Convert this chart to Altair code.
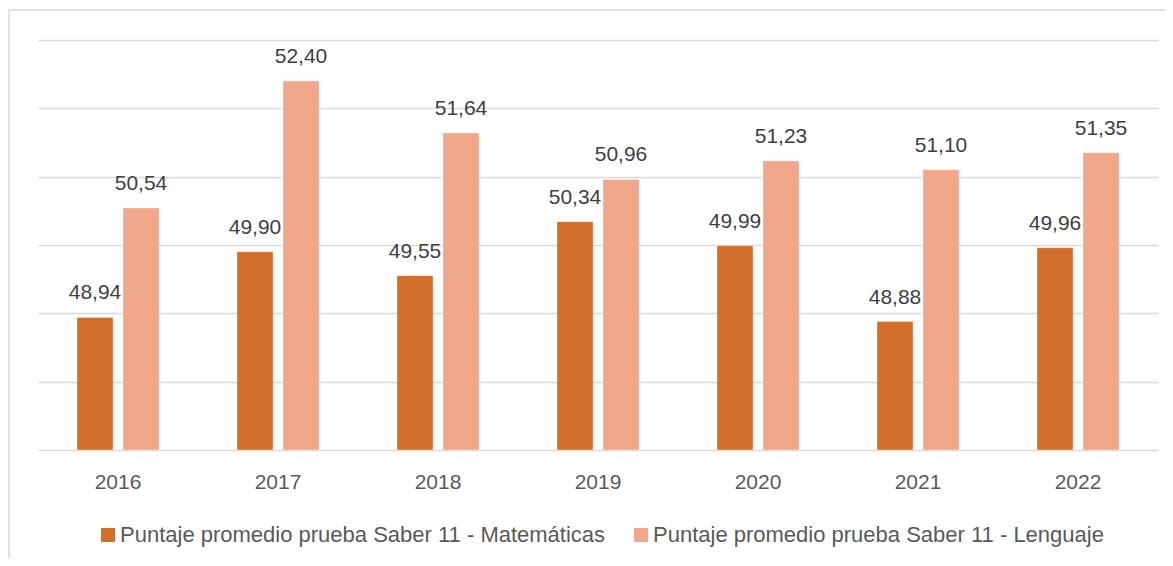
import altair as alt
import pandas as pd

years = ["2016", "2017", "2018", "2019", "2020", "2021", "2022"]
matematicas = [48.94, 49.90, 49.55, 50.34, 49.99, 48.88, 49.96]
lenguaje = [50.54, 52.40, 51.64, 50.96, 51.23, 51.10, 51.35]
series_names = [
    "Puntaje promedio prueba Saber 11 - Matemáticas",
    "Puntaje promedio prueba Saber 11 - Lenguaje",
]
colors = ["#D26E2B", "#F1A88A"]
grid_values = [47, 48, 49, 50, 51, 52, 53]

rows = []
for i, y in enumerate(years):
    for name, vals in zip(series_names, [matematicas, lenguaje]):
        rows.append({
            "year": y,
            "series": name,
            "value": vals[i],
            "label": f"{vals[i]:.2f}".replace(".", ","),
        })
df = pd.DataFrame(rows)

FONT = "Liberation Sans"

x_enc = alt.X(
    "year:N",
    sort=years,
    scale=alt.Scale(paddingInner=0.4875, paddingOuter=0.24375),
    axis=alt.Axis(
        title=None, labelAngle=0, ticks=False, domain=False,
        labelFontSize=21, labelColor="#595959", labelPadding=21, labelFont=FONT,
    ),
)
xoff_enc = alt.XOffset(
    "series:N", sort=series_names,
    scale=alt.Scale(paddingInner=10 / 46, paddingOuter=0),
)
y_enc = alt.Y(
    "value:Q",
    scale=alt.Scale(domain=[47, 53], nice=False, zero=False),
    axis=alt.Axis(
        title=None, labels=False, ticks=False, domain=False, values=grid_values,
        gridColor="#D9D9D9", gridWidth=1.5,
    ),
)

base = alt.Chart(df)

bars = base.mark_bar(stroke="#FFFFFF", strokeWidth=0.6, strokeOpacity=0.5).encode(
    x=x_enc,
    xOffset=xoff_enc,
    y=y_enc,
    y2=alt.datum(47),
    color=alt.Color(
        "series:N",
        sort=series_names,
        scale=alt.Scale(domain=series_names, range=colors),
        legend=alt.Legend(
            title=None, orient="none", legendX=59, legendY=484,
            direction="horizontal", columns=2, columnPadding=24,
            symbolType="square", symbolSize=196, symbolStrokeWidth=0,
            labelFontSize=22, labelColor="#595959", labelFont=FONT,
            labelOffset=1, labelLimit=800, padding=0,
        ),
    ),
)

texts = base.mark_text(
    dy=-18, baseline="alphabetic", fontSize=21, color="#404040", font=FONT,
).encode(
    x=alt.X("year:N", sort=years),
    xOffset=alt.XOffset("series:N", sort=series_names),
    y=alt.Y("value:Q"),
    text=alt.Text("label:N"),
)

frame_data = alt.Data(values=[{"k": 1}])
left_border = alt.Chart(frame_data).mark_rule(color="#D9D9D9", strokeWidth=1.5).encode(
    x=alt.value(-29), y=alt.value(-30), y2=alt.value(600),
)
top_border = alt.Chart(frame_data).mark_rule(color="#D9D9D9", strokeWidth=1.5).encode(
    x=alt.value(-29), x2=alt.value(1200), y=alt.value(-30),
)

chart = alt.layer(left_border, top_border, bars, texts).properties(
    width=1120,
    height=410,
    autosize=alt.AutoSizeParams(type="none"),
    padding={"left": 30, "top": 32, "right": 7, "bottom": 108},
    background="#FFFFFF",
).configure_view(stroke=None)

chart.save("out.html", embed_options={"renderer": "svg", "actions": False})
